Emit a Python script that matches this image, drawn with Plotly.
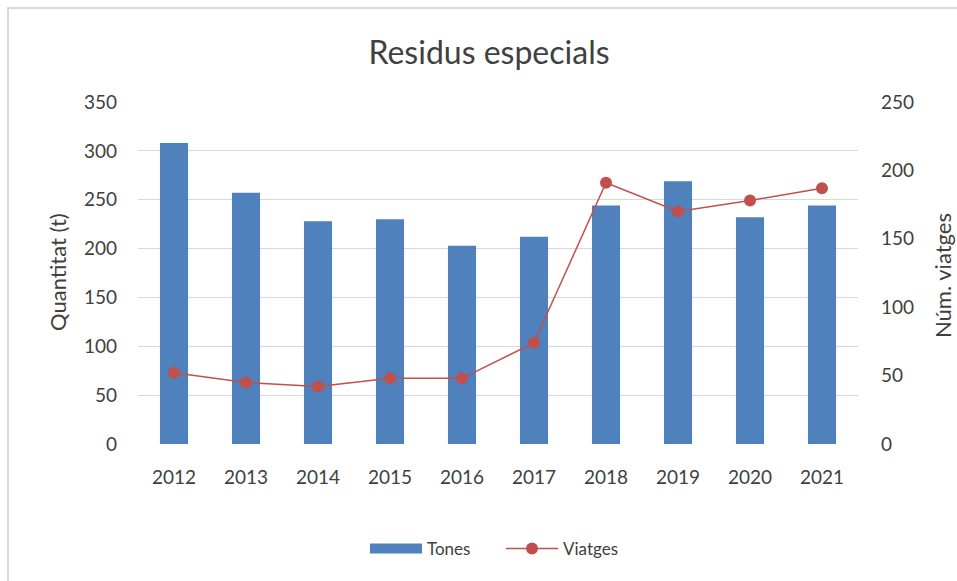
import plotly.graph_objects as go

years = ["2012", "2013", "2014", "2015", "2016", "2017", "2018", "2019", "2020", "2021"]
tones = [308, 257, 228, 230, 203, 212, 244, 269, 232, 244]
viatges = [52, 45, 42, 48, 48, 74, 191, 170, 178, 187]

left_ticks = [0, 50, 100, 150, 200, 250, 300, 350]
right_ticks = [0, 50, 100, 150, 200, 250]

FONT = "Lato, 'Open Sans', sans-serif"
TXT = "#404040"
BLUE = "#4F81BD"
RED = "#C0504D"

fig = go.Figure()
fig.add_trace(go.Bar(x=years, y=tones, name="Tones", marker=dict(color=BLUE, line=dict(width=0)),
                     yaxis="y", showlegend=False))
# legend-only entry to mimic the wide bar swatch
fig.add_trace(go.Scatter(x=[years[0]], y=[None], name="Tones", mode="lines",
                         line=dict(color=BLUE, width=10), yaxis="y", hoverinfo="skip"))
fig.add_trace(go.Scatter(x=years, y=viatges, name="Viatges", mode="lines+markers",
                         line=dict(color=RED, width=1.5),
                         marker=dict(color=RED, size=12), yaxis="y2"))

W, H = 957, 581
L, R, T, B = 138, 858, 102, 444

def px(x):
    return (x - L) / (R - L)

def py(y):
    return (B - y) / (B - T)

fig.update_layout(
    width=W, height=H,
    margin=dict(l=L, r=W - R, t=T, b=H - B),
    paper_bgcolor="white", plot_bgcolor="white",
    font=dict(family=FONT, color=TXT, size=16),
    bargap=0.61,
    title=dict(text="Residus especials", x=489 / W, xanchor="center", xref="container",
               y=1 - 53 / H, yanchor="middle", yref="container",
               font=dict(size=32, color=TXT, family=FONT)),
    xaxis=dict(range=[-0.5, 9.5], showgrid=False, showline=False, ticks="",
               tickfont=dict(size=19, color=TXT), ticklabelstandoff=20),
    yaxis=dict(range=[0, 350], tickvals=left_ticks, showgrid=True, gridcolor="#D9D9D9",
               gridwidth=1, zeroline=False, showline=False, ticks="",
               tickfont=dict(size=19, color=TXT), ticklabelstandoff=20),
    yaxis2=dict(range=[0, 250], tickvals=right_ticks, overlaying="y", side="right",
                showgrid=False, zeroline=False, showline=False, ticks="",
                tickfont=dict(size=19, color=TXT), ticklabelstandoff=22),
    legend=dict(orientation="h", x=px(365), xanchor="left", y=py(549), yanchor="middle",
                font=dict(size=17, color=TXT), tracegroupgap=0, itemwidth=52,
                entrywidth=69, entrywidthmode="pixels"),
    showlegend=True,
    annotations=[
        dict(text="Quantitat (t)", x=px(57), y=py(272), xref="paper", yref="paper",
             showarrow=False, textangle=-90, font=dict(size=22, color=TXT, family=FONT),
             xanchor="center", yanchor="middle"),
        dict(text="Núm. viatges", x=px(942), y=py(276), xref="paper", yref="paper",
             showarrow=False, textangle=-90, font=dict(size=22, color=TXT, family=FONT),
             xanchor="center", yanchor="middle"),
    ],
    shapes=[
        dict(type="line", xref="paper", yref="paper", x0=px(7), x1=px(957), y0=py(8), y1=py(8),
             line=dict(color="#D9D9D9", width=2)),
        dict(type="line", xref="paper", yref="paper", x0=px(8), x1=px(8), y0=py(7), y1=py(581),
             line=dict(color="#D9D9D9", width=2)),
    ],
)

fig.write_html("out.html", config={"displayModeBar": False},
               post_script="document.body.style.margin='0';document.body.style.padding='0';")
